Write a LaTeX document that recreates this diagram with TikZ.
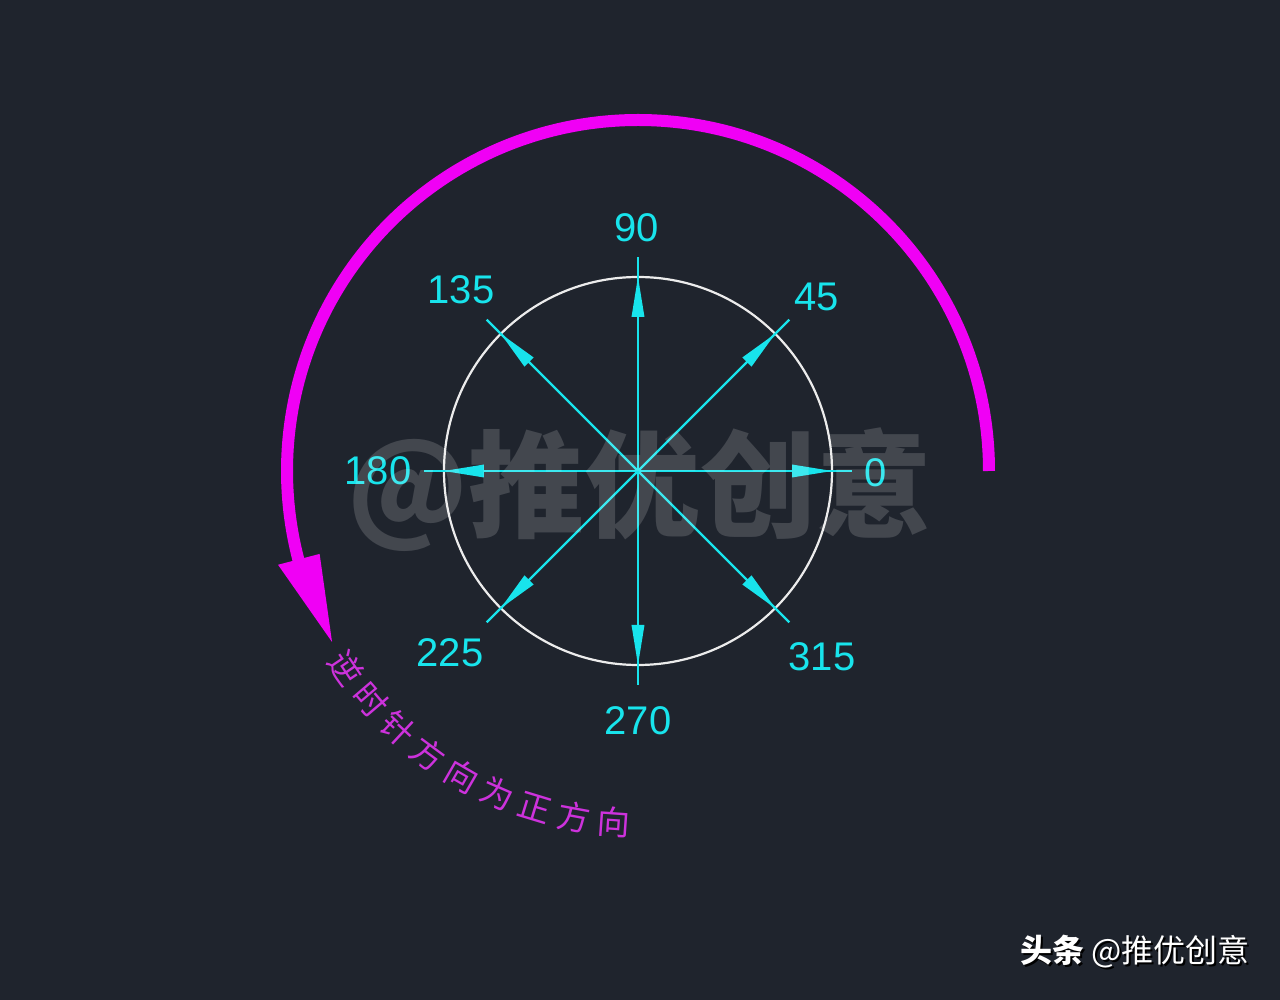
\documentclass[tikz,border=0pt]{standalone}
\usepackage{fontspec}
\setmainfont{Liberation Sans}
\newfontfamily\cjk{Noto Sans CJK SC}
\definecolor{bg}{RGB}{31,36,45}
\definecolor{cy}{RGB}{24,228,236}
\definecolor{ringc}{RGB}{236,236,236}
\definecolor{mag}{RGB}{240,0,245}
\definecolor{magt}{RGB}{205,50,220}
\begin{document}
\begin{tikzpicture}[x=1pt,y=1pt,
  ray/.style={draw=cy, line width=2.3pt},
  num/.style={text=cy, font=\fontsize{40}{40}\selectfont, inner sep=0pt},
  ring/.style={draw=ringc, line width=2.2pt, circle, minimum size=388pt, inner sep=0pt},
  bigarc/.style={draw=mag, line width=12pt},
  curvetxt/.style={text=magt, font=\cjk\fontsize{33}{33}\selectfont, inner sep=0pt},
  wmark/.style={text=white, text opacity=0.16, font=\cjk\bfseries\fontsize{116}{116}\selectfont, inner sep=0pt},
  cred/.style={font=\cjk\fontsize{32}{32}\selectfont, inner sep=0pt, anchor=east}]
\fill[bg] (-638,-529) rectangle (642,471);
\useasboundingbox (-638,-529) rectangle (642,471);
\coordinate (O) at (0,0);
\node[ring] (ringnode) at (O) {};
% rays with arrowheads
\foreach \a in {0,45,...,315}{
  \coordinate (e\a) at (\a:214);
  \draw[ray] (O) -- (e\a);
  \fill[cy, rotate=\a] (194,0) -- (154,6.5) -- (154,-6.5) -- cycle;
}
% labels
\node[num] (l0) at (238,-2) {0};
\node[num] (l45) at (179,174) {45};
\node[num] (l90) at (-1,243) {90};
\node[num] (l135) at (-177,181) {135};
\node[num] (l180) at (-260,0) {180};
\node[num] (l225) at (-188,-182) {225};
\node[num] (l270) at (0,-250) {270};
\node[num] (l315) at (184,-186) {315};
% magenta arc arrow
\coordinate (as) at (351,0);
\draw[bigarc] (as) arc[start angle=0, end angle=195.5, radius=351];
\fill[mag] (194.6:372) -- (209.2:350.5) -- (194.6:329) -- cycle;
% curved text
\foreach \ch [count=\i from 0] in {逆,时,针,方,向,为,正,方,向}{
  \pgfmathsetmacro\ang{214+6.5*\i}
  \node[curvetxt, rotate=\ang+90] (ct\i) at (\ang:352) {\ch};
}
% watermark
\node[wmark] (wm) at (2,-19) {@推优创意};
% credit
\node[cred, text=black] (credsh) at (1250-638+2,-483) {\textbf{头条} @推优创意};
\node[cred, text=white] (credit) at (1250-638,-481) {\textbf{头条} @推优创意};
\end{tikzpicture}
\end{document}
